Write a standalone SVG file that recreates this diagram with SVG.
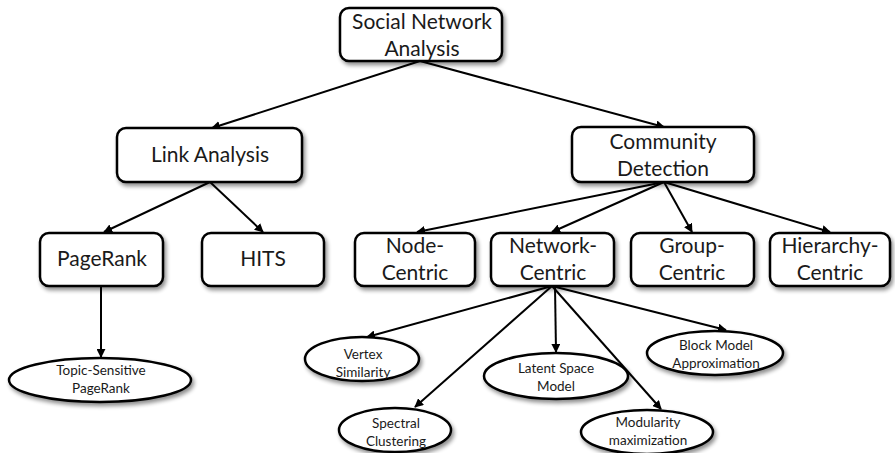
<svg xmlns="http://www.w3.org/2000/svg" width="895" height="453" viewBox="0 0 895 453">
<defs>
<filter id="sh" x="-20%" y="-20%" width="150%" height="160%">
<feGaussianBlur in="SourceAlpha" stdDeviation="2"/>
<feOffset dx="2" dy="3" result="b"/>
<feComponentTransfer><feFuncA type="linear" slope="0.45"/></feComponentTransfer>
<feMerge><feMergeNode/><feMergeNode in="SourceGraphic"/></feMerge>
</filter>
<marker id="ah" viewBox="0 0 10 10" refX="9" refY="5" markerWidth="9" markerHeight="9" markerUnits="userSpaceOnUse" orient="auto">
<path d="M0,0 L10,5 L0,10 z" fill="#000"/>
</marker>
</defs>
<style>
.box{fill:#fff;stroke:#000;stroke-width:2.5;filter:url(#sh)}
.ell{fill:#fff;stroke:#000;stroke-width:2.5;filter:url(#sh)}
.t{font-family:Lato,"Open Sans","Liberation Sans",sans-serif;font-size:21px;fill:#1a1a1a;text-anchor:middle}
.s{font-family:Lato,"Open Sans","Liberation Sans",sans-serif;font-size:13.5px;fill:#1a1a1a;text-anchor:middle}
.c{stroke:#000;stroke-width:2;fill:none;marker-end:url(#ah)}
</style>
<rect width="895" height="453" fill="#fff"/>
<g id="connectors">
<line class="c" x1="420" y1="61" x2="212" y2="128"/>
<line class="c" x1="420" y1="61" x2="664" y2="127"/>
<line class="c" x1="210" y1="182" x2="104" y2="232"/>
<line class="c" x1="210" y1="182" x2="263" y2="232"/>
<line class="c" x1="664" y1="182" x2="417" y2="232"/>
<line class="c" x1="664" y1="182" x2="552" y2="232"/>
<line class="c" x1="664" y1="182" x2="692" y2="232"/>
<line class="c" x1="664" y1="182" x2="830" y2="232"/>
<line class="c" x1="101" y1="286" x2="101" y2="357"/>
<line class="c" x1="552" y1="286" x2="367" y2="337"/>
<line class="c" x1="552" y1="286" x2="415" y2="407"/>
<line class="c" x1="555" y1="286" x2="556" y2="352"/>
<line class="c" x1="552" y1="286" x2="726" y2="330"/>
<line class="c" x1="552" y1="286" x2="661" y2="409"/>
</g>
<g id="n-sna"><rect class="box" x="340" y="8" width="162" height="53" rx="9"/><text class="t" x="422" y="29">Social Network</text><text class="t" x="422" y="56">Analysis</text></g>
<g id="n-link"><rect class="box" x="117" y="128" width="185" height="54" rx="9"/><text class="t" x="210" y="162">Link Analysis</text></g>
<g id="n-comm"><rect class="box" x="572" y="127" width="182" height="55" rx="9"/><text class="t" x="663" y="149">Community</text><text class="t" x="663" y="176">Detection</text></g>
<g id="n-pr"><rect class="box" x="40" y="233" width="123" height="53" rx="9"/><text class="t" x="102" y="266">PageRank</text></g>
<g id="n-hits"><rect class="box" x="202" y="233" width="122" height="53" rx="9"/><text class="t" x="263" y="266">HITS</text></g>
<g id="n-node"><rect class="box" x="355" y="233" width="120" height="53" rx="9"/><text class="t" x="415" y="253">Node-</text><text class="t" x="415" y="280">Centric</text></g>
<g id="n-net"><rect class="box" x="491" y="233" width="123" height="53" rx="9"/><text class="t" x="553" y="253">Network-</text><text class="t" x="553" y="280">Centric</text></g>
<g id="n-group"><rect class="box" x="631" y="233" width="123" height="53" rx="9"/><text class="t" x="692" y="253">Group-</text><text class="t" x="692" y="280">Centric</text></g>
<g id="n-hier"><rect class="box" x="770" y="233" width="120" height="53" rx="9"/><text class="t" x="830" y="253">Hierarchy-</text><text class="t" x="830" y="280">Centric</text></g>
<g id="n-topic"><ellipse class="ell" cx="100" cy="380" rx="91" ry="22"/><text class="s" x="101" y="375">Topic-Sensitive</text><text class="s" x="101" y="393">PageRank</text></g>
<g id="n-vertex"><ellipse class="ell" cx="362" cy="359" rx="57" ry="22"/><text class="s" x="363" y="359">Vertex</text><text class="s" x="363" y="377">Similarity</text></g>
<g id="n-spectral"><ellipse class="ell" cx="395" cy="430" rx="56" ry="22"/><text class="s" x="396" y="428">Spectral</text><text class="s" x="396" y="446">Clustering</text></g>
<g id="n-latent"><ellipse class="ell" cx="556" cy="376" rx="72" ry="23"/><text class="s" x="556" y="373">Latent Space</text><text class="s" x="556" y="391">Model</text></g>
<g id="n-block"><ellipse class="ell" cx="715" cy="353" rx="68" ry="22"/><text class="s" x="716" y="350">Block Model</text><text class="s" x="716" y="368">Approximation</text></g>
<g id="n-mod"><ellipse class="ell" cx="647" cy="432" rx="66" ry="22"/><text class="s" x="648" y="427">Modularity</text><text class="s" x="648" y="445">maximization</text></g>
</svg>
